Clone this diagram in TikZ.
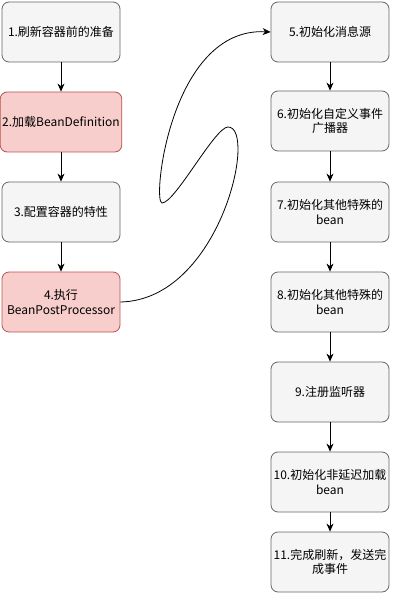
\documentclass[tikz,border=0pt]{standalone}
\usepackage{fontspec}
\setmainfont{Noto Sans CJK SC}
\usetikzlibrary{arrows.meta}
\definecolor{greyfill}{HTML}{F5F5F5}
\definecolor{greydraw}{HTML}{666666}
\definecolor{pinkfill}{HTML}{F8CECC}
\definecolor{pinkdraw}{HTML}{B85450}
\begin{document}
\begin{tikzpicture}[x=1pt,y=-1pt,
 box/.style={draw=greydraw, fill=greyfill, rounded corners=7pt, minimum width=118pt, minimum height=60pt, align=center, font=\fontsize{12}{14.5}\selectfont, line width=0.8pt, inner sep=2pt},
 pinkbox/.style={box, draw=pinkdraw, fill=pinkfill},
 arr/.style={-{Stealth[length=8pt,width=7pt,inset=2.5pt]}, line width=0.8pt}]
\useasboundingbox (0,0) rectangle (413,601);
\node[box] (b1) at (61,32) {1.刷新容器前的准备};
\node[pinkbox] (b2) at (61,122) {2.加载BeanDefinition};
\node[box] (b3) at (61,212) {3.配置容器的特性};
\node[pinkbox] (b4) at (61,302) {4.执行\\BeanPostProcessor};
\node[box] (b5) at (330,32) {5.初始化消息源};
\node[box] (b6) at (330,121) {6.初始化自定义事件\\广播器};
\node[box] (b7) at (330,212) {7.初始化其他特殊的\\bean};
\node[box] (b8) at (330,302) {8.初始化其他特殊的\\bean};
\node[box] (b9) at (330,392) {9.注册监听器};
\node[box] (b10) at (330,482) {10.初始化非延迟加载\\bean};
\node[box] (b11) at (330,562) {11.完成刷新，发送完\\成事件};
\draw[arr] (b1) -- (b2);
\draw[arr] (b2) -- (b3);
\draw[arr] (b3) -- (b4);
\draw[arr] (b5) -- (b6);
\draw[arr] (b6) -- (b7);
\draw[arr] (b7) -- (b8);
\draw[arr] (b8) -- (b9);
\draw[arr] (b9) -- (b10);
\draw[arr] (b10) -- (b11);
\coordinate (c1) at (228,127);
\coordinate (c2) at (162,203);
\draw[arr] (b4.east) .. controls (220,300) and (258,127) .. (c1) .. controls (215,127) and (175,203) .. (c2) .. controls (152,203) and (170,27) .. (b5.west);
\end{tikzpicture}
\end{document}
